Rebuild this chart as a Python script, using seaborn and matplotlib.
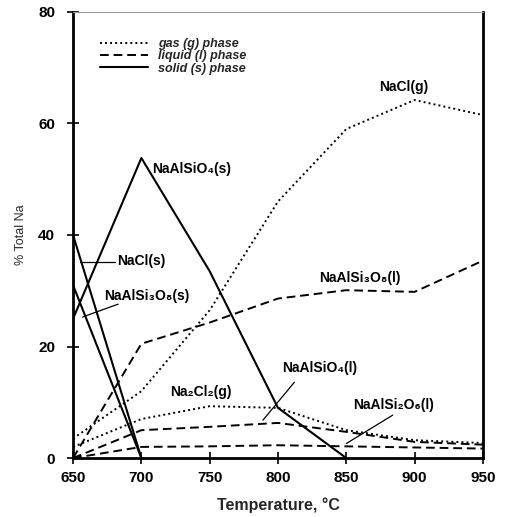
import matplotlib
matplotlib.use("Agg")
import matplotlib.pyplot as plt
from matplotlib.lines import Line2D
import pandas as pd
import seaborn as sns

sns.set_style("ticks")
plt.rcParams["font.family"] = ["Liberation Sans", "DejaVu Sans"]

# Temperatures (°C)
temps = [650, 700, 750, 800, 850, 900, 950]

# Gas phase species, % of total Na
nacl_g = [3.5, 12.0, 26.5, 46.0, 59.0, 64.2, 61.5]
na2cl2_g = [2.0, 7.0, 9.3, 9.0, 5.0, 3.2, 2.7]

# Liquid phase species
naalsi3o8_l = [0.0, 20.5, 24.3, 28.6, 30.1, 29.8, 35.4]
naalsio4_l = [0.0, 5.0, 5.6, 6.3, 4.7, 2.9, 2.4]
naalsi2o6_l = [0.0, 2.0, 2.1, 2.3, 2.1, 1.9, 1.7]

# Solid phase species
naalsio4_s_t = [650, 700, 750, 800, 850]
naalsio4_s = [25.0, 53.8, 33.5, 9.0, 0.0]
nacl_s_t = [650, 700]
nacl_s = [40.0, 0.0]
naalsi3o8_s_t = [650, 700]
naalsi3o8_s = [31.0, 0.0]

series = [
    ("NaCl(g)", "gas", temps, nacl_g),
    ("Na2Cl2(g)", "gas", temps, na2cl2_g),
    ("NaAlSi3O8(l)", "liquid", temps, naalsi3o8_l),
    ("NaAlSiO4(l)", "liquid", temps, naalsio4_l),
    ("NaAlSi2O6(l)", "liquid", temps, naalsi2o6_l),
    ("NaAlSiO4(s)", "solid", naalsio4_s_t, naalsio4_s),
    ("NaCl(s)", "solid", nacl_s_t, nacl_s),
    ("NaAlSi3O8(s)", "solid", naalsi3o8_s_t, naalsi3o8_s),
]

rows = []
for name, phase, ts, vals in series:
    for t, v in zip(ts, vals):
        rows.append({"species": name, "phase": phase, "T": t, "pct": v})
df = pd.DataFrame(rows)

phase_style = {
    "gas": dict(linestyle=(0, (1, 1.6)), linewidth=1.4),
    "liquid": dict(linestyle=(0, (4.5, 2.5)), linewidth=1.4),
    "solid": dict(linestyle="-", linewidth=1.5),
}

fig = plt.figure(figsize=(5.11, 5.17), dpi=100)
ax = fig.add_axes([0.143, 0.114, 0.802, 0.863])

for name, sub in df.groupby("species", sort=False):
    phase = sub["phase"].iloc[0]
    sns.lineplot(data=sub, x="T", y="pct", ax=ax, color="black",
                 estimator=None, sort=False, legend=False,
                 **phase_style[phase])

ax.set_xlim(650, 950)
ax.set_ylim(0, 80)
ax.set_xticks(range(650, 951, 50))
ax.set_yticks(range(0, 81, 20))

tick_font = dict(fontsize=11, fontweight="bold")
ax.set_xticklabels([str(t) for t in range(650, 951, 50)], **tick_font)
ax.set_yticklabels([str(v) for v in range(0, 81, 20)], **tick_font)
ax.tick_params(axis="both", direction="inout", length=8, width=1.2,
               colors="black", pad=5)
ax.tick_params(axis="y", pad=9)

for side in ["left", "bottom", "right"]:
    ax.spines[side].set_linewidth(2.0)
    ax.spines[side].set_color("black")
ax.spines["top"].set_linewidth(0.8)
ax.spines["top"].set_color("#9a9a9a")

ax.set_xlabel("Temperature, °C", fontsize=11.5, fontweight="bold", labelpad=9)
ax.set_ylabel("% Total Na", fontsize=9, labelpad=8)

lab = dict(fontsize=10, fontweight="bold", color="black")
ax.text(910, 66.6, "NaCl(g)", ha="right", va="center", **lab)
ax.text(708, 51.8, "NaAlSiO₄(s)", ha="left", va="center", **lab)
ax.text(682, 35.3, "NaCl(s)", ha="left", va="center", **lab)
ax.text(673, 29.0, "NaAlSi₃O₈(s)", ha="left", va="center", **lab)
ax.text(860, 32.2, "NaAlSi₃O₈(l)", ha="center", va="center", **lab)
ax.text(721, 11.9, "Na₂Cl₂(g)", ha="left", va="center", **lab)
ax.text(803, 16.1, "NaAlSiO₄(l)", ha="left", va="center", **lab)
ax.text(855, 9.6, "NaAlSi₂O₆(l)", ha="left", va="center", **lab)

# leader lines from labels to their curves
lead = dict(color="black", linewidth=0.9)
ax.plot([655, 681], [35.2, 35.2], **lead)
ax.plot([657, 683], [25.3, 27.6], **lead)
ax.plot([812, 789], [13.6, 6.8], **lead)
ax.plot([884, 850], [7.7, 2.6], **lead)

handles = [
    Line2D([], [], color="black", **phase_style["gas"]),
    Line2D([], [], color="black", **phase_style["liquid"]),
    Line2D([], [], color="black", **phase_style["solid"]),
]
leg = ax.legend(handles, ["gas (g) phase", "liquid (l) phase", "solid (s) phase"],
                loc="upper left", bbox_to_anchor=(0.066, 0.941), frameon=False,
                borderaxespad=0, borderpad=0,
                handlelength=3.8, handletextpad=0.8, labelspacing=0.02,
                prop=dict(size=9, style="italic", weight="bold"))

fig.savefig("out.png", dpi=100)
